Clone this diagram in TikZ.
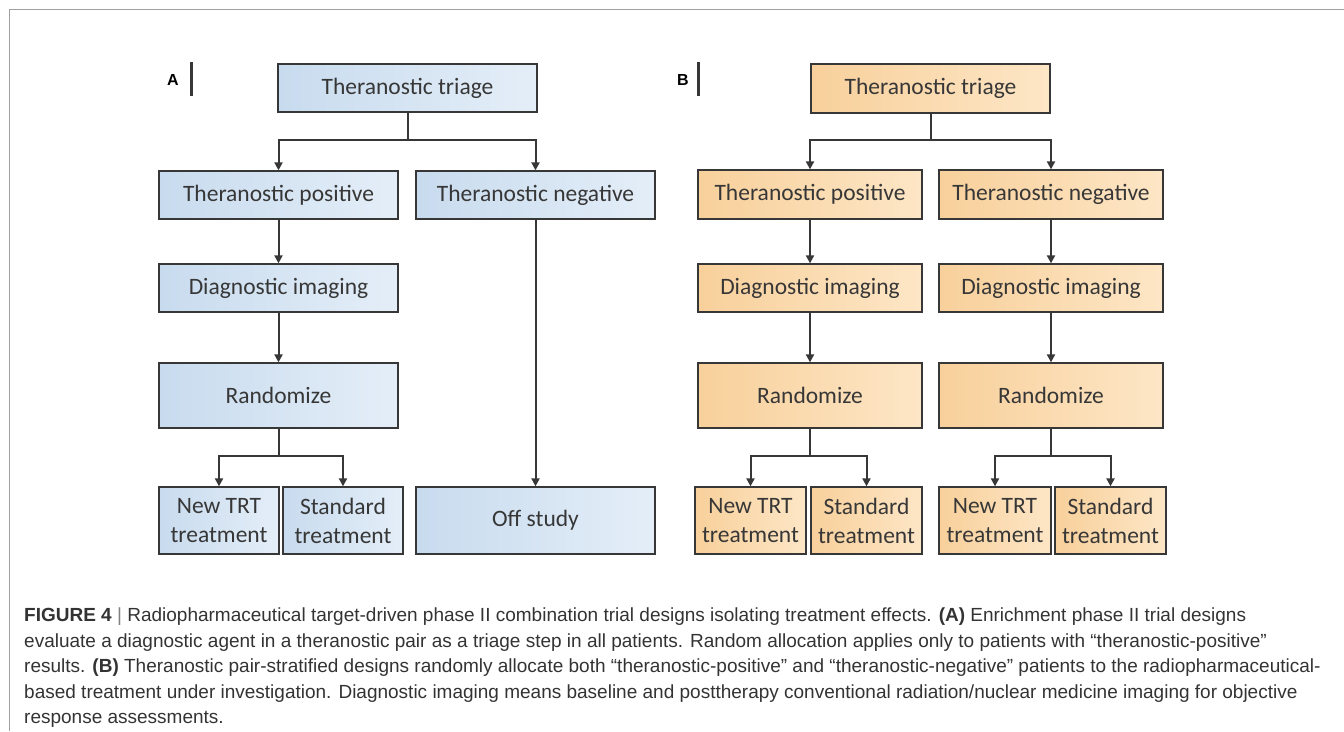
\documentclass[tikz,border=0pt]{standalone}
\usepackage{fontspec}
\setmainfont{Carlito}
\newfontfamily\capfont{Liberation Sans}
\usetikzlibrary{arrows.meta,positioning,calc}
\definecolor{boxline}{RGB}{55,55,55}
\definecolor{blueL}{RGB}{200,219,238}
\definecolor{blueR}{RGB}{228,238,248}
\definecolor{orgL}{RGB}{248,208,155}
\definecolor{orgR}{RGB}{253,230,198}
\definecolor{framegray}{RGB}{160,160,160}

\begin{document}
\begin{tikzpicture}[
x=1pt,y=-1pt,
box/.style={draw=boxline,line width=1.3pt,align=center,inner sep=0pt,
  text=boxline,font=\fontsize{23.5}{29}\selectfont},
boxA/.style={box,left color=blueL,right color=blueR},
boxB/.style={box,left color=orgL,right color=orgR},
link/.style={draw=boxline,line width=2pt},
arr/.style={link,-{Triangle[length=8pt,width=8pt]}},
panel/.style={font=\capfont\bfseries\fontsize{16}{16}\selectfont}
]
\useasboundingbox (0,0) rectangle (1344,731);
\draw[framegray,line width=1.5pt] (1344,9.5) -- (9.5,9.5) -- (9.5,731);

% panel A
\node[panel] (labA) at (173,80) {A};
\draw[boxline,line width=3pt] (191,62) -- (191,96);
\node[boxA,minimum width=259,minimum height=48] (triA) at (407.5,88) {Theranostic triage};
\node[boxA,minimum width=239,minimum height=48] (posA) at (278.5,195) {Theranostic positive};
\node[boxA,minimum width=239,minimum height=48] (negA) at (535.5,195) {Theranostic negative};
\node[boxA,minimum width=239,minimum height=48] (diagA) at (278.5,288) {Diagnostic imaging};
\node[boxA,minimum width=239,minimum height=65] (randA) at (278.5,395.5) {Randomize};
\node[boxA,minimum width=120,minimum height=67] (newA) at (219,520.5) {New TRT\\treatment};
\node[boxA,minimum width=120,minimum height=67] (stdA) at (343,520.5) {Standard\\treatment};
\node[boxA,minimum width=239,minimum height=67] (offA) at (535.5,520.5) {Off study};
\coordinate (jA) at (407.5,140);
\coordinate (kA) at (278.5,456);
\draw[link] (triA) -- (jA);
\draw[arr] (jA) -| (posA);
\draw[arr] (jA) -| (negA);
\draw[arr] (posA) -- (diagA);
\draw[arr] (diagA) -- (randA);
\draw[link] (randA) -- (kA);
\draw[arr] (kA) -| (newA);
\draw[arr] (kA) -| (stdA);
\draw[arr] (negA) -- (offA);

% panel B
\node[panel] (labB) at (683,80) {B};
\draw[boxline,line width=3pt] (698,62) -- (698,96);
\node[boxB,minimum width=239,minimum height=49] (triB) at (930.5,88.5) {Theranostic triage};
\node[boxB,minimum width=224,minimum height=49] (posB) at (810,194.5) {Theranostic positive};
\node[boxB,minimum width=224,minimum height=49] (negB) at (1051,194.5) {Theranostic negative};
\node[boxB,minimum width=224,minimum height=48] (diagB) at (810,288) {Diagnostic imaging};
\node[boxB,minimum width=224,minimum height=48] (diagBn) at (1051,288) {Diagnostic imaging};
\node[boxB,minimum width=224,minimum height=65] (randB) at (810,395.5) {Randomize};
\node[boxB,minimum width=224,minimum height=65] (randBn) at (1051,395.5) {Randomize};
\node[boxB,minimum width=111,minimum height=67] (newB) at (750.5,520.5) {New TRT\\treatment};
\node[boxB,minimum width=111,minimum height=67] (stdB) at (866.5,520.5) {Standard\\treatment};
\node[boxB,minimum width=112,minimum height=67] (newBn) at (995,520.5) {New TRT\\treatment};
\node[boxB,minimum width=111,minimum height=67] (stdBn) at (1110.5,520.5) {Standard\\treatment};
\coordinate (jB) at (930.5,140);
\coordinate (kB) at (810,456);
\coordinate (kBn) at (1051,456);
\draw[link] (triB) -- (jB);
\draw[arr] (jB) -| (posB);
\draw[arr] (jB) -| (negB);
\draw[arr] (posB) -- (diagB);
\draw[arr] (negB) -- (diagBn);
\draw[arr] (diagB) -- (randB);
\draw[arr] (diagBn) -- (randBn);
\draw[link] (randB) -- (kB);
\draw[arr] (kB) -| (newB);
\draw[arr] (kB) -| (stdB);
\draw[link] (randBn) -- (kBn);
\draw[arr] (kBn) -| (newBn);
\draw[arr] (kBn) -| (stdBn);

% caption
\node[anchor=north west,align=left,inner sep=0pt,text=black!80,
  font=\capfont\fontsize{19}{25.5}\selectfont] (cap) at (24,608)
{\textbf{FIGURE 4} \textcolor{gray}{|} Radiopharmaceutical target-driven phase II combination trial designs isolating treatment effects. \textbf{(A)} Enrichment phase II trial designs\\
evaluate a diagnostic agent in a theranostic pair as a triage step in all patients. Random allocation applies only to patients with “theranostic-positive”\\
results. \textbf{(B)} Theranostic pair-stratified designs randomly allocate both “theranostic-positive” and “theranostic-negative” patients to the radiopharmaceutical-\\
based treatment under investigation. Diagnostic imaging means baseline and posttherapy conventional radiation/nuclear medicine imaging for objective\\
response assessments.};
\end{tikzpicture}
\end{document}
